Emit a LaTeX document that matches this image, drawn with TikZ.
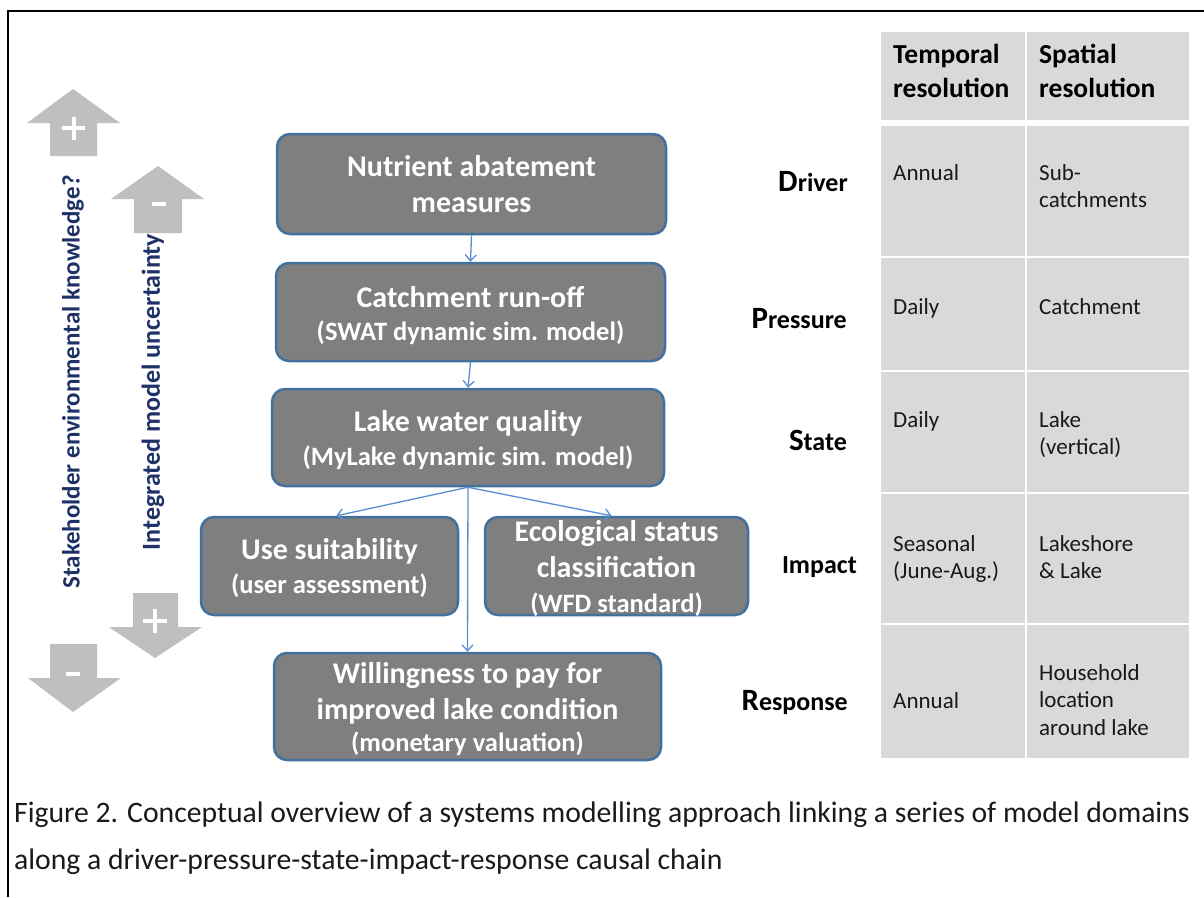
\documentclass[tikz,border=0pt]{standalone}
\usepackage{fontspec}
\setmainfont{Carlito}
\usetikzlibrary{arrows.meta}
\definecolor{boxfill}{HTML}{7F7F7F}
\definecolor{boxedge}{HTML}{41719C}
\definecolor{connc}{HTML}{5B8ED0}
\definecolor{bigarrow}{HTML}{BFBFBF}
\definecolor{cellc}{HTML}{D9D9D9}
\definecolor{navy}{HTML}{1F3268}
\definecolor{captxt}{HTML}{1A1A1A}
\newcommand\subt[1]{{\fontsize{26.5}{32}\selectfont #1}}
\newcommand\fl[1]{{\fontsize{31}{31}\selectfont #1}}
\begin{document}
\begin{tikzpicture}[x=1pt,y=-1pt,
  box/.style={draw=boxedge, line width=2.5pt, fill=boxfill, rounded corners=13pt, inner sep=0pt},
  btxt/.style={text=white, font=\bfseries\fontsize{30}{36}\selectfont, align=center, anchor=base, inner sep=0pt},
  conn/.style={draw=connc, line width=1.3pt, -{Straight Barb[length=6pt,width=11pt]}},
  bigarr/.style={fill=bigarrow},
  sign/.style={draw=white, line width=4pt},
  vtxt/.style={rotate=90, text=navy, font=\bfseries\fontsize{25}{30}\selectfont, inner sep=0pt},
  dlab/.style={anchor=base east, font=\bfseries\fontsize{26}{30}\selectfont, inner sep=0pt},
  hdr/.style={anchor=base west, align=left, font=\bfseries\fontsize{27.5}{34}\selectfont, inner sep=0pt},
  ctxt/.style={anchor=base west, align=left, font=\fontsize{23}{27.5}\selectfont, inner sep=0pt, text=black!90},
  captext/.style={anchor=base west, font=\fontsize{29.7}{36}\selectfont, text=captxt, inner sep=0pt}
]
\useasboundingbox (0,0) rectangle (1204,897);
\fill[white] (0,0) rectangle (1204,897);
% frame
\draw[line width=2.5pt] (8,897) -- (8,11) -- (1204,11);

% big grey arrows
\fill[bigarr] (73,89) -- (120,123) -- (97,123) -- (97,156) -- (50,156) -- (50,123) -- (27,123) -- cycle;
\draw[sign] (62,128) -- (85,128) (73.5,116.5) -- (73.5,139.5);
\fill[bigarr] (158,166) -- (204,199) -- (182,199) -- (182,233) -- (134,233) -- (134,199) -- (111,199) -- cycle;
\draw[sign] (152,203.5) -- (166,203.5);
\fill[bigarr] (155,658) -- (202,627) -- (178,627) -- (178,593) -- (133,593) -- (133,627) -- (109,627) -- cycle;
\draw[sign] (143,621) -- (167,621) (155,609) -- (155,633);
\fill[bigarr] (73,712) -- (121,678) -- (97,678) -- (97,644) -- (50,644) -- (50,678) -- (28,678) -- cycle;
\draw[sign] (66,674) -- (80,674);

% vertical labels
\node[vtxt] (stake) at (73,382) {Stakeholder environmental knowledge?};
\node[vtxt, font=\bfseries\fontsize{26}{30}\selectfont] (integ) at (153,392) {Integrated model uncertainty};

% boxes
\node[box, minimum width=389pt, minimum height=100pt] (b1) at (471.5,184) {};
\node[box, minimum width=389pt, minimum height=98pt] (b2) at (470.5,312) {};
\node[box, minimum width=392pt, minimum height=97pt] (b3) at (468,437.5) {};
\node[box, minimum width=257pt, minimum height=98pt] (b4) at (329.5,566) {};
\node[box, minimum width=263pt, minimum height=98pt] (b5) at (616.5,566) {};
\node[box, minimum width=387pt, minimum height=107pt] (b6) at (467.5,706.5) {};

% (base anchor = baseline of the last line)
\node[btxt] (t1) at (471.5,212) {Nutrient abatement\\measures};
\node[btxt] (t2) at (470.5,340) {Catchment run-off\\[-3pt]\subt{(SWAT dynamic sim. model)}};
\node[btxt] (t3) at (468,465) {Lake water quality\\[-2pt]\subt{(MyLake dynamic sim. model)}};
\node[btxt] (t4) at (329.5,593) {Use suitability\\[-2pt]\subt{(user assessment)}};
\node[btxt] (t5) at (616.5,612) {Ecological status\\classification\\[-1pt]\subt{(WFD standard)}};
\node[btxt] (t6) at (467.5,751) {Willingness to pay for\\improved lake condition\\[-4pt]\subt{(monetary valuation)}};

% connectors
\draw[conn] (b1.south) -- (b2.north);
\draw[conn] (b2.south) -- (b3.north);
\draw[conn] (b3.south) -- ([xshift=7pt]b4.north);
\draw[conn] (b3.south) -- ([xshift=-5pt]b5.north);
\draw[conn] (b3.south) -- (b6.north);

% DPSIR labels
\node[dlab] (drv) at (848,191) {\fl{D}river};
\node[dlab] (prs) at (847,328) {\fl{P}ressure};
\node[dlab] (sta) at (847,450) {\fl{S}tate};
\node[dlab] (imp) at (857,573) {Impact};
\node[dlab] (rsp) at (848,710) {\fl{R}esponse};

% table cells
\fill[cellc] (881,32) rectangle (1025,120);
\fill[cellc] (1027,32) rectangle (1189,120);
\fill[cellc] (881,126) rectangle (1025,256);
\fill[cellc] (1027,126) rectangle (1189,256);
\fill[cellc] (881,258) rectangle (1025,370);
\fill[cellc] (1027,258) rectangle (1189,370);
\fill[cellc] (881,372) rectangle (1025,492);
\fill[cellc] (1027,372) rectangle (1189,492);
\fill[cellc] (881,494) rectangle (1025,623);
\fill[cellc] (1027,494) rectangle (1189,623);
\fill[cellc] (881,625) rectangle (1025,758);
\fill[cellc] (1027,625) rectangle (1189,758);

% table text
\node[hdr] (h1) at (893,97) {Temporal\\resolution};
\node[hdr] (h2) at (1039,97) {Spatial\\resolution};
\node[ctxt] (c11) at (893,180) {Annual};
\node[ctxt] (c12) at (1039,207.5) {Sub-\\catchments};
\node[ctxt] (c21) at (893,314) {Daily};
\node[ctxt] (c22) at (1039,314) {Catchment};
\node[ctxt] (c31) at (893,427) {Daily};
\node[ctxt] (c32) at (1039,454.5) {Lake\\(vertical)};
\node[ctxt] (c41) at (893,578.5) {Seasonal\\(June-Aug.)};
\node[ctxt] (c42) at (1039,578.5) {Lakeshore\\\& Lake};
\node[ctxt] (c51) at (893,708) {Annual};
\node[ctxt] (c52) at (1039,735) {Household\\location\\around lake};

% caption
\node[captext] (cap1) at (14,822) {Figure 2. Conceptual overview of a systems modelling approach linking a series of model domains};
\node[captext] (cap2) at (14,869) {along a driver-pressure-state-impact-response causal chain};
\end{tikzpicture}
\end{document}
